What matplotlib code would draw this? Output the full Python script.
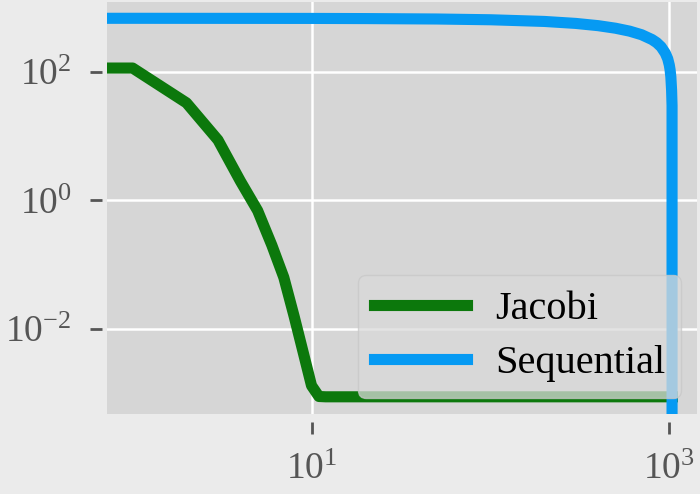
import matplotlib
matplotlib.use('Agg')
import matplotlib.pyplot as plt
from matplotlib.ticker import NullLocator

# Jacobi residual per iteration
jacobi_x = [0, 1, 2, 3, 4, 5, 6, 7, 8, 9, 10, 11, 12, 1040]
jacobi_y = [115, 115, 33, 8.7, 2.0, 0.69, 0.2, 0.063, 0.0155, 0.0042, 0.0013,
            0.00088, 0.00087, 0.00087]

# Sequential residual per iteration
seq_x = [0, 1, 2, 5, 10, 20, 50, 100, 200, 300, 400, 500, 600, 700, 800,
         850, 900, 950, 980, 1000, 1010, 1020, 1030, 1036, 1040]
seq_y = [685, 685, 684, 683, 682, 678, 668, 650, 612, 570, 526, 480, 432, 380,
         320, 286, 246, 196, 160, 128, 108, 84, 52, 30, 0]

plt.rcParams['font.family'] = ['Liberation Serif', 'DejaVu Serif']
plt.rcParams['mathtext.fontset'] = 'stix'

fig = plt.figure(figsize=(7, 4.94), dpi=100, facecolor='#ebebeb')
ax = fig.add_axes([0.153, 0.162, 0.843, 0.834], facecolor='#d6d6d6')

ax.plot(jacobi_x, jacobi_y, color='#0c780c', linewidth=8, label='Jacobi')
ax.plot(seq_x, seq_y, color='#069af3', linewidth=8, label='Sequential')

ax.set_xscale('log')
ax.set_yscale('log')
ax.set_xlim(0.72, 1432)
ax.set_ylim(4.7e-4, 1230)
ax.set_xticks([10, 1000])
ax.set_yticks([1e2, 1e0, 1e-2])
ax.xaxis.set_minor_locator(NullLocator())
ax.yaxis.set_minor_locator(NullLocator())

ax.grid(True, color='white', linewidth=1.8)
ax.set_axisbelow(True)
for side in ax.spines:
    ax.spines[side].set_visible(False)
ax.spines['left'].set_position(('outward', 4))
ax.spines['bottom'].set_position(('outward', 6))
ax.tick_params(axis='both', which='major', direction='out', length=8.5, width=2,
               color='#555555', labelcolor='#555555', labelsize=27)
ax.tick_params(axis='y', pad=13)
ax.tick_params(axis='x', pad=13)

leg = ax.legend(loc='lower right', fontsize=29, framealpha=0.75,
                facecolor='#dadada', edgecolor='#c8c8c8', borderaxespad=0.4,
                handlelength=2.3, labelspacing=0.4, borderpad=0.4,
                handletextpad=0.7)

fig.savefig('out.png', dpi=100, facecolor=fig.get_facecolor())
